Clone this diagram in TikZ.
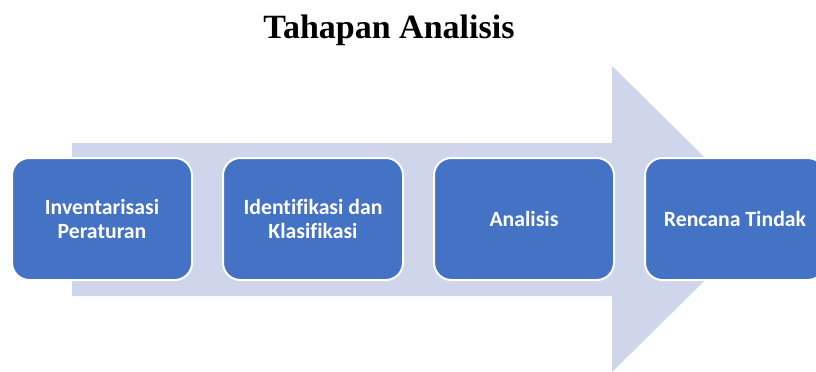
\documentclass[tikz,border=0pt]{standalone}
\usepackage{fontspec}
\newfontfamily\titlefont{Liberation Serif}
\newfontfamily\stagefont[Ligatures=NoCommon]{Carlito}
\usepackage{tikz}
\usetikzlibrary{positioning}
\definecolor{stageblue}{HTML}{4472C4}
\definecolor{arrowback}{HTML}{CFD5EA}
\begin{document}
\begin{tikzpicture}
  [x=0.75pt,y=-0.75pt,
   stagebox/.style={draw=white,line width=1.5pt,fill=stageblue,rounded corners=13pt,outer sep=0pt,
     minimum width=135pt,minimum height=91.5pt,align=center,text=white,
     font=\stagefont\bfseries\fontsize{16.3}{18}\selectfont}]
  \useasboundingbox (0,0) rectangle (816,371);
  \clip (0,0) rectangle (816,371);
  \node (title) at (389,30) {\titlefont\bfseries\fontsize{25.5}{30}\selectfont Tahapan Analisis};
  % big arrow behind the stages
  \fill [arrowback] (72,143) -- (612,143) -- (612,66) -- (767,219) -- (612,372) -- (612,296) -- (72,296) -- cycle;
  \node (stage0) at (102,219) [stagebox] {Inventarisasi\\Peraturan};
  \node (stage1) [stagebox,right=23.25pt of stage0.east,anchor=west] {Identifikasi dan\\Klasifikasi};
  \node (stage2) [stagebox,right=23.25pt of stage1.east,anchor=west] {Analisis};
  \node (stage3) [stagebox,right=23.25pt of stage2.east,anchor=west] {Rencana Tindak};
\end{tikzpicture}
\end{document}
